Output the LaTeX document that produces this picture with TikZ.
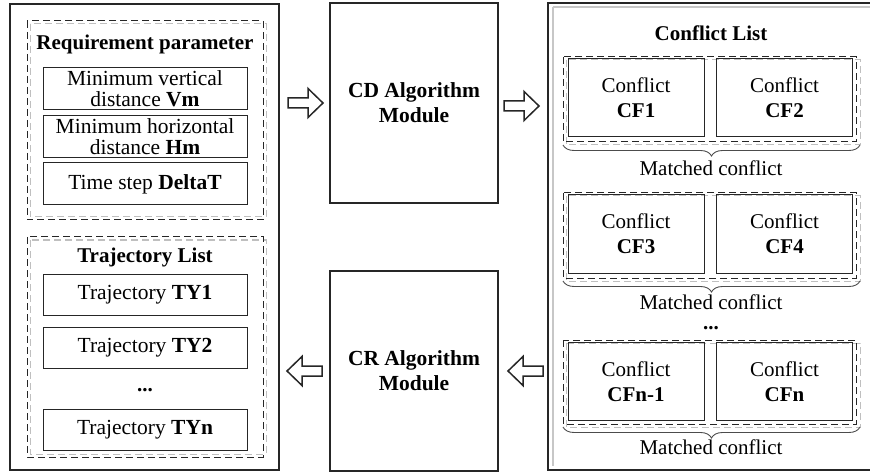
\documentclass[tikz,border=0pt]{standalone}
\usepackage{fontspec}
\setmainfont{Liberation Serif}
\usetikzlibrary{decorations.pathreplacing}
\tikzset{
  outerbox/.style={draw=black!85, line width=2pt, inner sep=0pt, outer sep=0pt},
  itembox/.style={draw=black!85, line width=1pt, inner sep=0pt, outer sep=0pt, align=center, font=\fontsize{21.5}{21}\selectfont},
  cfbox/.style={draw=black!85, line width=1pt, inner sep=0pt, outer sep=0pt, align=center, font=\fontsize{21}{25}\selectfont, minimum width=136pt, minimum height=78pt},
  dashblack/.style={draw=black!85, line width=1pt, dash pattern=on 7pt off 4pt},
  dashgray/.style={draw=black!25, line width=1pt, dash pattern=on 7pt off 4pt},
  title/.style={font=\fontsize{21}{25}\selectfont\bfseries, inner sep=0pt},
  plain/.style={font=\fontsize{21}{25}\selectfont, inner sep=0pt},
  blockarrow/.style={draw=black!85, line width=1.5pt, line join=miter, fill=white},
  bracestyle/.style={draw=black!70, line width=0.9pt, decorate, decoration={brace, mirror, amplitude=11pt}}
}
\begin{document}
\begin{tikzpicture}[x=1pt,y=-1pt]
\useasboundingbox (0,0) rectangle (870,473);
\clip (0,0) rectangle (870,473);

% ---------- left column ----------
\node[outerbox, minimum width=269pt, minimum height=466pt] (left) at (144.5,237) {};
\draw[dashgray] (30,24) rectangle (266,217);
\draw[dashblack] (27,21) rectangle (263,220);
\node[title] (reqt) at (145,44) {Requirement parameter};
\node[itembox, minimum width=204pt, minimum height=42pt] (vm) at (145,89) {Minimum vertical\\distance \textbf{Vm}};
\node[itembox, minimum width=204pt, minimum height=42pt] (hm) at (145,137) {Minimum horizontal\\distance \textbf{Hm}};
\node[itembox, minimum width=204pt, minimum height=42pt] (dt) at (145,184) {Time step \textbf{DeltaT}};

\draw[dashgray] (30,240) rectangle (266,454);
\draw[dashblack] (27,237) rectangle (263,457);
\node[title] (trt) at (145,257) {Trajectory List};
\node[itembox, minimum width=204pt, minimum height=41pt] (ty1) at (145,294.5) {Trajectory \textbf{TY1}};
\node[itembox, minimum width=204pt, minimum height=41pt] (ty2) at (145,347.5) {Trajectory \textbf{TY2}};
\node[title] (tdots) at (145,390) {...};
\node[itembox, minimum width=204pt, minimum height=41pt] (tyn) at (145,429.5) {Trajectory \textbf{TYn}};

% ---------- middle column ----------
\node[outerbox, minimum width=168pt, minimum height=200pt, align=center, font=\fontsize{21.5}{25}\selectfont\bfseries] (cd) at (414,103) {CD Algorithm\\Module};
\node[outerbox, minimum width=168pt, minimum height=200pt, align=center, font=\fontsize{21.5}{25}\selectfont\bfseries] (cr) at (414,371) {CR Algorithm\\Module};

% ---------- right column ----------
\node[outerbox, minimum width=330pt, minimum height=467pt] (cl) at (713,236.5) {};
\draw[draw=black!22, line width=2pt] (552.5,7.5) -- (880,7.5);
\draw[draw=black!22, line width=2pt] (552.5,7.5) -- (552.5,466);
\node[title] (clt) at (711,33) {Conflict List};

% group 1
\draw[dashgray] (566,60) rectangle (860,145);
\draw[dashblack] (563,57) rectangle (856,142);
\node[cfbox] (cf1) at (636,98) {Conflict\\\textbf{CF1}};
\node[cfbox] (cf2) at (784.5,98) {Conflict\\\textbf{CF2}};
\coordinate (g1l) at (563,145);
\coordinate (g1r) at (860,145);
\draw[bracestyle] (g1l) -- (g1r);
\node[plain] (m1) at (711,168) {Matched conflict};

% group 2
\draw[dashgray] (566,196) rectangle (860,281);
\draw[dashblack] (563,193) rectangle (856,278);
\node[cfbox] (cf3) at (636,234) {Conflict\\\textbf{CF3}};
\node[cfbox] (cf4) at (784.5,234) {Conflict\\\textbf{CF4}};
\coordinate (g2l) at (563,281);
\coordinate (g2r) at (860,281);
\draw[bracestyle] (g2l) -- (g2r);
\node[plain] (m2) at (711,302) {Matched conflict};
\node[font=\fontsize{21}{25}\selectfont\bfseries, inner sep=0pt, anchor=base] (cdots) at (711,329) {...};

% group 3
\draw[dashgray] (566,343) rectangle (860,427);
\draw[dashblack] (563,340) rectangle (856,424);
\node[cfbox] (cf5) at (636,381.5) {Conflict\\\textbf{CFn-1}};
\node[cfbox] (cf6) at (784.5,381.5) {Conflict\\\textbf{CFn}};
\coordinate (g3l) at (563,427);
\coordinate (g3r) at (860,427);
\draw[bracestyle] (g3l) -- (g3r);
\node[plain] (m3) at (711,447) {Matched conflict};

% ---------- block arrows (hollow) ----------
\coordinate (a1) at (288,103);
\draw[blockarrow] (a1) ++(0,-5) -- ++(20,0) -- ++(0,-9.5) -- ++(15,14.5) -- ++(-15,14.5) -- ++(0,-9.5) -- ++(-20,0) -- cycle;
\coordinate (a2) at (504,106);
\draw[blockarrow] (a2) ++(0,-5) -- ++(20,0) -- ++(0,-9.5) -- ++(15,14.5) -- ++(-15,14.5) -- ++(0,-9.5) -- ++(-20,0) -- cycle;
\coordinate (a3) at (322,371);
\draw[blockarrow] (a3) ++(0,-5) -- ++(-20,0) -- ++(0,-9.5) -- ++(-15,14.5) -- ++(15,14.5) -- ++(0,-9.5) -- ++(20,0) -- cycle;
\coordinate (a4) at (543,371);
\draw[blockarrow] (a4) ++(0,-5) -- ++(-20,0) -- ++(0,-9.5) -- ++(-15,14.5) -- ++(15,14.5) -- ++(0,-9.5) -- ++(20,0) -- cycle;
\end{tikzpicture}
\end{document}
